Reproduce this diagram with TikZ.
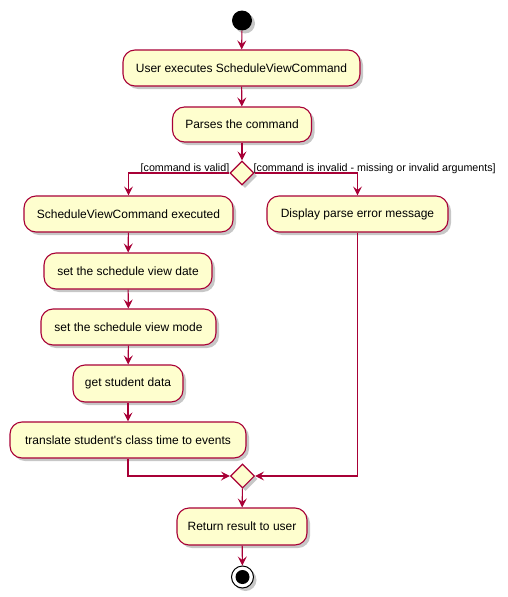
\documentclass[tikz,border=0pt]{standalone}
\usepackage{fontspec}
\setmainfont{Liberation Sans}
\usetikzlibrary{arrows.meta,shapes.geometric,shadows}
\definecolor{pfill}{HTML}{FEFECE}
\definecolor{pline}{HTML}{A80036}
\tikzset{
  shad/.style={drop shadow={shadow xshift=3pt,shadow yshift=-3pt,fill=black,opacity=0.22}},
  act/.style={draw=pline,fill=pfill,line width=1.1pt,rounded corners=12pt,inner sep=0pt,
    font=\fontsize{12}{14}\selectfont,shad},
  dia/.style={diamond,draw=pline,fill=pfill,line width=1.1pt,minimum width=24pt,minimum height=24pt,inner sep=0pt,shad},
  arr/.style={draw=pline,line width=1.1pt,-{Stealth[length=9pt,width=9pt,inset=3.5pt]}},
  lbl/.style={inner sep=0pt,font=\fontsize{10.7}{13}\selectfont},
}
\begin{document}
\begin{tikzpicture}[x=1pt,y=-1pt]
\useasboundingbox (0,0) rectangle (507,597);
\node[circle,fill=black,minimum size=20pt,inner sep=0pt,shad] (start) at (242,20.5) {};
\node[act,minimum width=237pt,minimum height=36pt] (b1) at (241.5,68) {User executes ScheduleViewCommand};
\node[act,minimum width=139pt,minimum height=35pt] (b2) at (242,124.5) {Parses the command};
\node[dia] (d1) at (242,173) {};
\node[act,minimum width=209pt,minimum height=36pt] (b3) at (128.5,214) {ScheduleViewCommand executed};
\node[act,minimum width=181pt,minimum height=36pt] (b4) at (357.5,214) {Display parse error message};
\node[act,minimum width=168pt,minimum height=36pt] (b5) at (128,271) {set the schedule view date};
\node[act,minimum width=175pt,minimum height=36pt] (b6) at (128.5,327) {set the schedule view mode};
\node[act,minimum width=110pt,minimum height=37pt] (b7) at (128,383.5) {get student data};
\node[act,minimum width=236pt,minimum height=36pt] (b8) at (128,440) {translate student\textquotesingle s class time to events};
\node[dia] (d2) at (242.5,476) {};
\node[act,minimum width=130pt,minimum height=37pt] (b9) at (242,526.5) {Return result to user};
\node[circle,draw=black,fill=white,line width=1pt,minimum size=22pt,inner sep=0pt,shad] (stop) at (242.5,577) {};
\node[circle,fill=black,minimum size=14pt,inner sep=0pt] (stopin) at (stop.center) {};
\node[lbl,anchor=base east] (l1) at (229.5,171) {[command is valid]};
\node[lbl,anchor=base west] (l2) at (253.5,171) {[command is invalid - missing or invalid arguments]};
\draw[arr] (start) -- (b1);
\draw[arr] (b1) -- (b2);
\draw[arr] (b2) -- (d1);
\draw[arr] (d1.west) -| (b3.north);
\draw[arr] (d1.east) -| (b4.north);
\draw[arr] (b3) -- (b5);
\draw[arr] (b5) -- (b6);
\draw[arr] (b6) -- (b7);
\draw[arr] (b7) -- (b8);
\draw[arr] (b8.south) |- (d2.west);
\draw[arr] (b4.south) |- (d2.east);
\draw[arr] (d2) -- (b9);
\draw[arr] (b9) -- (stop);
\end{tikzpicture}
\end{document}
